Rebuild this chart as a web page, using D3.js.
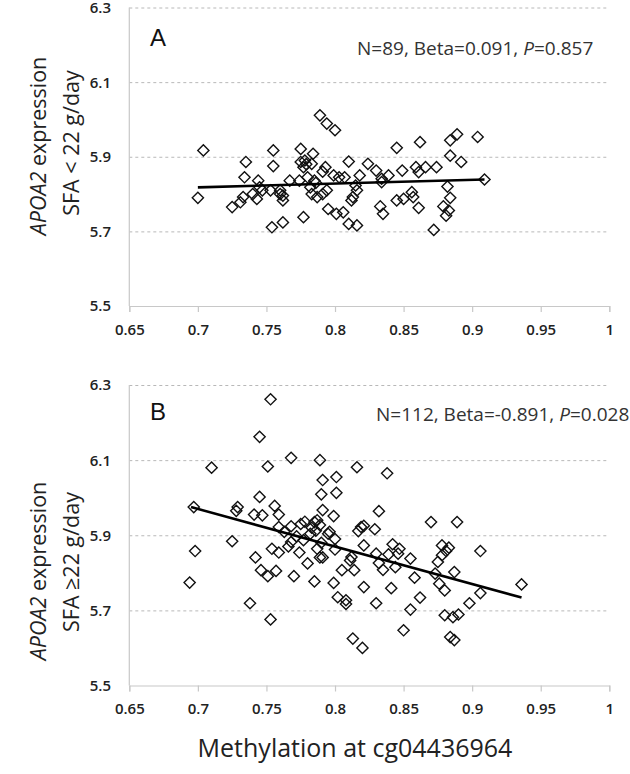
<!DOCTYPE html>
<html><head><meta charset="utf-8">
<script src="https://cdn.jsdelivr.net/npm/d3@7"></script>
<style>body{margin:0;background:#fff}svg{display:block}</style>
</head><body>
<svg id="c" width="630" height="774"></svg>
<script>
const xTicks = [0.65, 0.7, 0.75, 0.8, 0.85, 0.9, 0.95, 1];
const yTicks = [5.5, 5.7, 5.9, 6.1, 6.3];

const aX = [0.704,0.700,0.735,0.755,0.755,0.734,0.725,0.733,0.731,0.740,0.744,0.745,0.743,0.747,0.753,0.760,0.762,0.762,0.754,0.762,0.767,0.777,0.775,0.775,0.777,0.774,0.780,0.784,0.783,0.782,0.783,0.787,0.791,0.785,0.789,0.794,0.800,0.793,0.791,0.794,0.795,0.801,0.806,0.803,0.807,0.810,0.810,0.816,0.813,0.816,0.818,0.824,0.830,0.815,0.812,0.845,0.862,0.884,0.889,0.904,0.884,0.892,0.834,0.839,0.849,0.859,0.861,0.866,0.874,0.834,0.909,0.882,0.884,0.879,0.883,0.881,0.861,0.856,0.857,0.850,0.845,0.833,0.835,0.872,0.778,0.779,0.786,0.760,0.799];
const aY = [5.917,5.790,5.886,5.917,5.875,5.845,5.765,5.792,5.778,5.800,5.836,5.818,5.787,5.810,5.810,5.810,5.796,5.783,5.711,5.724,5.836,5.738,5.921,5.886,5.872,5.836,5.845,5.908,5.881,5.818,5.800,5.792,5.800,5.836,6.011,5.989,5.971,5.872,5.860,5.810,5.760,5.747,5.751,5.845,5.845,5.887,5.720,5.716,5.792,5.810,5.850,5.881,5.863,5.823,5.783,5.924,5.939,5.944,5.960,5.953,5.903,5.886,5.841,5.850,5.863,5.872,5.859,5.872,5.872,5.832,5.839,5.820,5.790,5.767,5.756,5.742,5.763,5.805,5.792,5.787,5.783,5.767,5.747,5.704,5.890,5.880,5.830,5.800,5.850];

const bX = [0.753,0.745,0.710,0.751,0.768,0.789,0.816,0.791,0.801,0.790,0.801,0.745,0.697,0.729,0.728,0.741,0.747,0.756,0.759,0.759,0.768,0.778,0.787,0.791,0.799,0.789,0.796,0.763,0.817,0.821,0.838,0.832,0.829,0.870,0.889,0.698,0.694,0.725,0.738,0.753,0.742,0.746,0.751,0.754,0.759,0.757,0.770,0.768,0.774,0.780,0.785,0.787,0.789,0.791,0.799,0.800,0.802,0.808,0.808,0.805,0.811,0.814,0.821,0.821,0.813,0.775,0.782,0.795,0.777,0.842,0.847,0.846,0.839,0.830,0.812,0.832,0.835,0.844,0.855,0.858,0.841,0.830,0.862,0.855,0.850,0.878,0.883,0.881,0.878,0.875,0.873,0.876,0.880,0.887,0.906,0.906,0.936,0.898,0.880,0.886,0.890,0.884,0.887,0.820,0.819,0.783,0.785,0.786,0.772,0.800,0.790,0.766];
const bY = [6.262,6.162,6.080,6.083,6.106,6.100,6.081,6.047,6.055,6.009,6.013,6.002,5.975,5.975,5.965,5.955,5.953,5.978,5.955,5.922,5.924,5.936,5.940,5.967,5.951,5.927,5.909,5.909,5.911,5.925,6.065,5.964,5.916,5.935,5.935,5.858,5.774,5.884,5.719,5.676,5.841,5.807,5.791,5.864,5.854,5.805,5.791,5.882,5.854,5.825,5.777,5.864,5.841,5.841,5.773,5.862,5.735,5.727,5.717,5.807,5.833,5.807,5.762,5.873,5.625,5.930,5.904,5.904,5.887,5.876,5.864,5.851,5.849,5.851,5.842,5.826,5.808,5.815,5.838,5.787,5.759,5.719,5.734,5.702,5.647,5.873,5.867,5.858,5.847,5.829,5.798,5.771,5.753,5.802,5.858,5.746,5.769,5.719,5.687,5.682,5.689,5.629,5.621,5.600,5.922,5.920,5.935,5.912,5.897,5.890,5.880,5.870];

const lineAX = [0.700, 0.909], lineAY = [5.818, 5.839];
const lineBX = [0.695, 0.936], lineBY = [5.975, 5.734];

const panels = [
  {label:"A", xs:aX, ys:aY, lx:lineAX, ly:lineAY, top:7.5, bottom:306,
   stat:["N=89, Beta=0.091, ", "P", "=0.857"], statX:357, statY:55, labelY:45.5,
   t1:146, t2:143, sfa:"SFA < 22 g/day"},
  {label:"B", xs:bX, ys:bY, lx:lineBX, ly:lineBY, top:385, bottom:685.5,
   stat:["N=112, Beta=-0.891, ", "P", "=0.028"], statX:376, statY:421, labelY:420,
   t1:571, t2:562, sfa:"SFA \u226522 g/day"}
];

const svg = d3.select("#c");
const x = d3.scaleLinear().domain([0.65, 1]).range([129.3, 609.3]);
const sans = "'Open Sans', sans-serif";

panels.forEach(p => {
  const y = d3.scaleLinear().domain([5.5, 6.3]).range([p.bottom, p.top]);
  const g = svg.append("g");

  // grid
  const grid = g.append("g").attr("transform", `translate(${x(0.65)},0)`)
    .call(d3.axisLeft(y).tickValues(yTicks).tickSize(-(x(1) - x(0.65))).tickFormat(""));
  grid.select(".domain").remove();
  grid.selectAll(".tick line").attr("stroke", "#b8b8b8").attr("stroke-dasharray", "3,3").attr("stroke-width", 1);
  grid.selectAll(".tick").filter(d => d === 5.5).remove();

  // y tick labels
  g.append("g").selectAll("text").data(yTicks).join("text")
    .attr("x", 111).attr("y", d => y(d)).attr("dy", "0.36em")
    .attr("text-anchor", "end").attr("font-family", sans).attr("font-size", 15)
    .attr("font-weight", 600).attr("fill", "#222").text(d => d.toFixed(1));

  // y axis line
  g.append("line").attr("x1", x(0.65)).attr("x2", x(0.65)).attr("y1", y(6.3)).attr("y2", y(5.5))
    .attr("stroke", "#c8c8c8").attr("stroke-width", 1.2);

  // x axis
  const xa = g.append("g").attr("transform", `translate(0,${y(5.5)})`)
    .call(d3.axisBottom(x).tickValues(xTicks).tickSize(6).tickPadding(12).tickFormat(d => String(d)));
  xa.select(".domain").attr("stroke", "#c8c8c8").attr("stroke-width", 1.2);
  xa.selectAll(".tick line").attr("stroke", "#c8c8c8").attr("stroke-width", 1.2);
  xa.selectAll(".tick text").attr("font-family", sans).attr("font-size", 15)
    .attr("font-weight", 600).attr("fill", "#222");

  // points
  const pts = p.xs.map((v, i) => [v, p.ys[i]]);
  const r = 5.6;
  g.append("g").selectAll("path").data(pts).join("path")
    .attr("d", d => {
      const cx = x(d[0]), cy = y(d[1]);
      return `M${cx},${cy - r}L${cx + r},${cy}L${cx},${cy + r}L${cx - r},${cy}Z`;
    })
    .attr("fill", "none").attr("stroke", "#111").attr("stroke-width", 1.4);

  // regression line
  g.append("line").attr("x1", x(p.lx[0])).attr("y1", y(p.ly[0]))
    .attr("x2", x(p.lx[1])).attr("y2", y(p.ly[1]))
    .attr("stroke", "#000").attr("stroke-width", 2.6);

  // panel label
  g.append("text").attr("x", 150).attr("y", p.labelY)
    .attr("font-family", "'Liberation Sans', Arial, sans-serif").attr("font-size", 24)
    .attr("fill", "#111").text(p.label);

  // stat text
  const st = g.append("text").attr("x", p.statX).attr("y", p.statY)
    .attr("font-family", sans).attr("font-size", 19).attr("fill", "#333");
  st.append("tspan").text(p.stat[0]);
  st.append("tspan").attr("font-style", "italic").text(p.stat[1]);
  st.append("tspan").text(p.stat[2]);

  // y titles
  const t1 = g.append("text").attr("transform", `translate(46,${p.t1}) rotate(-90)`)
    .attr("text-anchor", "middle").attr("font-family", sans).attr("font-size", 21.5).attr("fill", "#222");
  t1.append("tspan").attr("font-style", "italic").text("APOA2");
  t1.append("tspan").text(" expression");
  g.append("text").attr("transform", `translate(79,${p.t2}) rotate(-90)`)
    .attr("text-anchor", "middle").attr("font-family", sans).attr("font-size", 21.5).attr("fill", "#222")
    .text(p.sfa);
});

svg.append("text").attr("x", 355).attr("y", 757).attr("text-anchor", "middle")
  .attr("font-family", sans).attr("font-size", 25).attr("fill", "#222")
  .text("Methylation at cg04436964");
</script>
</body></html>
